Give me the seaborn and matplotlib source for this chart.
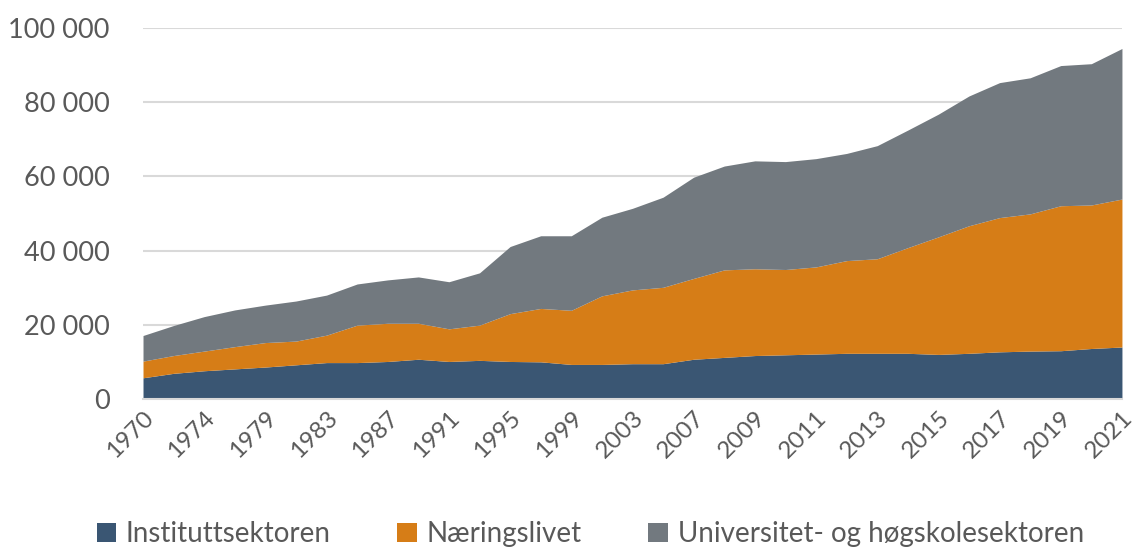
import matplotlib
matplotlib.use("Agg")
import matplotlib.pyplot as plt
from matplotlib.patches import Patch
from matplotlib.ticker import FuncFormatter
import seaborn as sns
import numpy as np

# years (from 2007 yearly, earlier every second year)
years = ['1970', '1972', '1974', '1977', '1979', '1981', '1983', '1985', '1987', '1989',
         '1991', '1993', '1995', '1997', '1999', '2001', '2003', '2005', '2007', '2008',
         '2009', '2010', '2011', '2012', '2013', '2014', '2015', '2016', '2017', '2018',
         '2019', '2020', '2021']

institutt = [5700, 6900, 7600, 8100, 8600, 9200, 9800, 9800, 10100, 10700,
             10100, 10400, 10100, 10000, 9300, 9300, 9500, 9500, 10700, 11200,
             11700, 11900, 12100, 12300, 12300, 12300, 12000, 12300, 12700, 12900,
             13000, 13600, 14000]
naering = [4500, 4800, 5300, 6000, 6600, 6400, 7400, 10100, 10300, 9700,
           8800, 9500, 12900, 14400, 14600, 18500, 19900, 20600, 21800, 23600,
           23400, 23000, 23500, 25000, 25500, 28500, 31700, 34400, 36200, 37000,
           39100, 38700, 39900]
uh = [6900, 8100, 9300, 9900, 10100, 10800, 10800, 11100, 11700, 12500,
      12700, 14100, 18100, 19600, 20100, 21200, 22000, 24300, 27300, 28000,
      29100, 29100, 29200, 28900, 30500, 31700, 33100, 35000, 36400, 36700,
      37800, 38100, 40600]

series_names = ['Instituttsektoren', 'Næringslivet', 'Universitet- og høgskolesektoren']
colors = ['#3A5673', '#D67D17', '#72797F']

sns.set_theme(style="white")
plt.rcParams['font.family'] = ['Lato', 'DejaVu Sans']

fig = plt.figure(figsize=(11.35, 5.51), dpi=100)
ax = fig.add_axes([0.126, 0.276, 0.8625, 0.673])

x = np.arange(len(years))
ax.stackplot(x, institutt, naering, uh, colors=colors, linewidth=0)

ax.set_xlim(0, len(years) - 1)
ax.set_ylim(0, 100000)
ax.set_yticks(range(0, 100001, 20000))
ax.yaxis.set_major_formatter(FuncFormatter(lambda v, p: f"{int(v):,}".replace(",", " ")))
ax.yaxis.grid(True, color='#D9D9D9', linewidth=1.5)
ax.set_axisbelow(True)

ax.set_xticks(x[::2])
ax.set_xticklabels(years[::2], rotation=45, ha='right', rotation_mode='anchor')
ax.tick_params(axis='x', length=0, pad=6, labelsize=17.5, labelcolor='#595959')
ax.tick_params(axis='y', length=0, pad=24, labelsize=19.5, labelcolor='#595959')

for s in ['top', 'right', 'left']:
    ax.spines[s].set_visible(False)
ax.spines['bottom'].set_color('#D9D9D9')
ax.spines['bottom'].set_linewidth(1.5)

handles = [Patch(facecolor=c, edgecolor='none') for c in colors]
fig.legend(handles, series_names, loc='center', bbox_to_anchor=(0.52, 0.03), ncol=3,
           frameon=False, fontsize=20, labelcolor='#595959', handlelength=0.7,
           handleheight=0.7, handletextpad=0.35, columnspacing=2.4)

fig.savefig("out.png", dpi=100)
